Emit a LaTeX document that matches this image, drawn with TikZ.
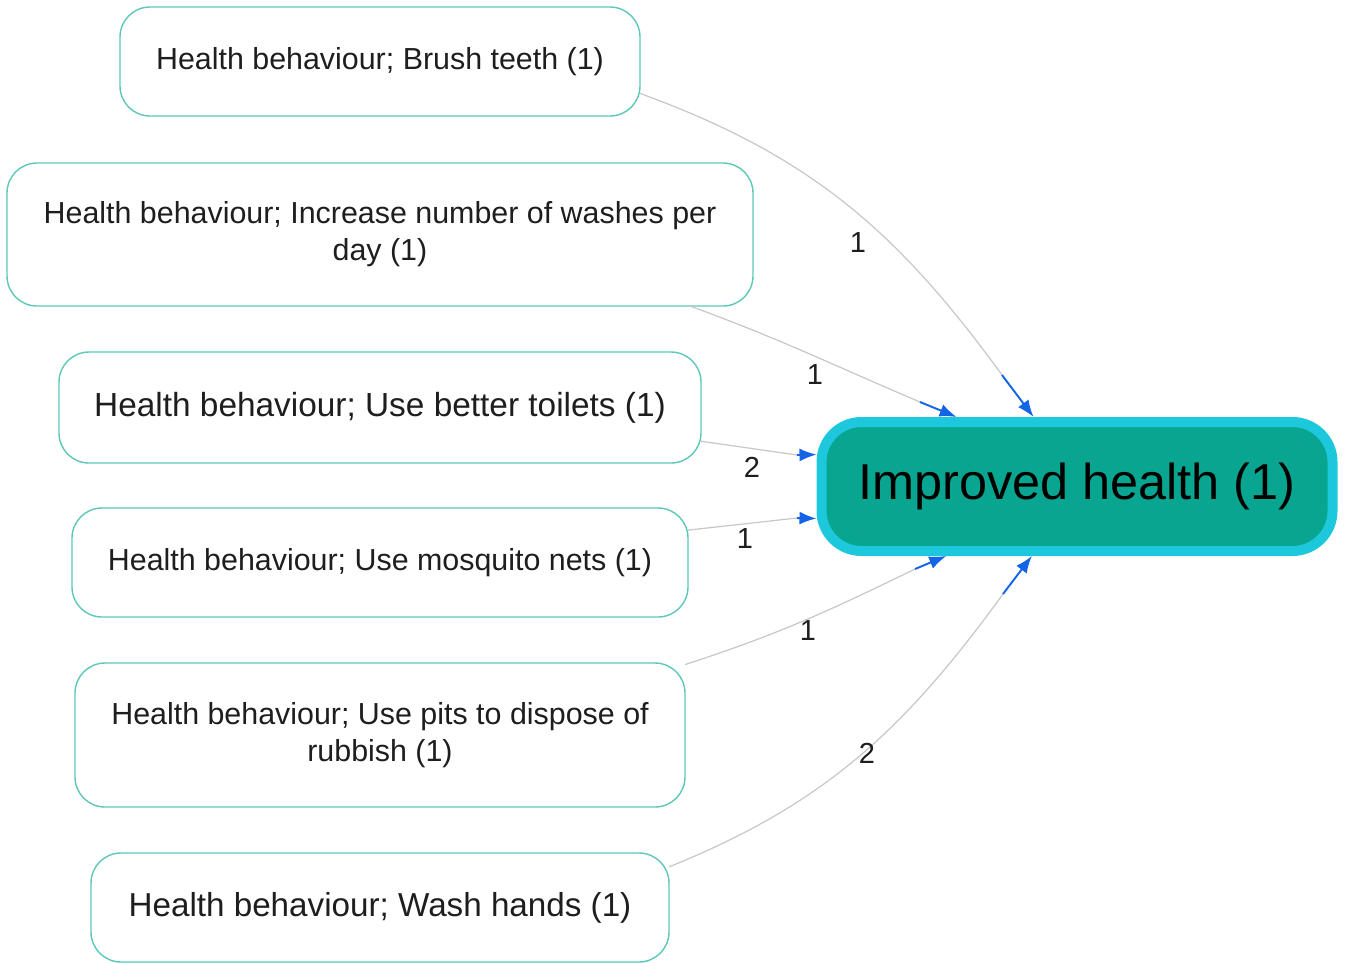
\documentclass[tikz,border=0pt]{standalone}
\usepackage{fontspec}
\setmainfont{Liberation Sans}
\usetikzlibrary{positioning,arrows.meta}

\definecolor{boxline}{RGB}{92,200,185}
\definecolor{hubfill}{RGB}{8,165,145}
\definecolor{hubline}{RGB}{30,200,220}
\definecolor{edgegrey}{RGB}{200,200,200}
\definecolor{tipblue}{RGB}{20,100,230}
\definecolor{txt}{RGB}{30,30,30}

\tikzset{
  behaviour/.style={draw=boxline, line width=0.8pt, rounded corners=0.6cm,
    fill=white, align=center, text=txt, inner sep=0pt, outer sep=0pt,
    font=\fontsize{17.3}{21}\selectfont},
  hub/.style={draw=hubline, fill=hubfill, line width=0.2cm, rounded corners=0.8cm,
    minimum width=10.22cm, minimum height=2.58cm, inner sep=0pt,
    font=\fontsize{28.7}{34}\selectfont},
  link/.style={draw=edgegrey, line width=0.7pt},
  tip/.style={draw=tipblue, line width=1.1pt, -{Latex[length=0.34cm,width=0.26cm]}},
  elabel/.style={inner sep=0pt, text=txt, font=\fontsize{16.5}{20}\selectfont}
}

\begin{document}
\begin{tikzpicture}
    \useasboundingbox (0,0) rectangle (26.92,-19.24);

    % behaviours
    \node[behaviour, minimum width=10.4cm, minimum height=2.18cm] (b1) at (7.6,-1.23)
        {Health behaviour; Brush teeth (1)};
    \node[behaviour, minimum width=14.92cm, minimum height=2.86cm, below=0.94cm of b1] (b2)
        {Health behaviour; Increase number of washes per\\ day (1)};
    \node[behaviour, minimum width=12.84cm, minimum height=2.22cm, below=0.92cm of b2,
        font=\fontsize{19}{23}\selectfont] (b3)
        {Health behaviour; Use better toilets (1)};
    \node[behaviour, minimum width=12.32cm, minimum height=2.18cm, below=0.9cm of b3] (b4)
        {Health behaviour; Use mosquito nets (1)};
    \node[behaviour, minimum width=12.2cm, minimum height=2.88cm, below=0.92cm of b4] (b5)
        {Health behaviour; Use pits to dispose of\\ rubbish (1)};
    \node[behaviour, minimum width=11.56cm, minimum height=2.18cm, below=0.92cm of b5,
        font=\fontsize{18.9}{23}\selectfont] (b6)
        {Health behaviour; Wash hands (1)};

    % outcome
    \node[hub] (hub) at (21.54,-9.73) {Improved health (1)};

    % where the blue part starts
    \coordinate (m1) at (20.04,-7.50);
    \coordinate (m2) at (18.40,-8.04);
    \coordinate (m3) at (15.94,-9.10);
    \coordinate (m4) at (15.94,-10.36);
    \coordinate (m5) at (18.30,-11.38);
    \coordinate (m6) at (20.06,-11.88);

    % links
    \draw[link] (b1.-7.8) to[out=-20, in=126] (m1);
    \draw[tip] (m1) -- (hub.122.3);
    \draw[link] (b2.-13.2) to[out=-20, in=157] (m2);
    \draw[tip] (m2) -- (hub.150.6);
    \draw[link] (b3.-6.5) -- (m3);
    \draw[tip] (m3) -- (hub.173.6);
    \draw[link] (b4.6.4) -- (m4);
    \draw[tip] (m4) -- (hub.-173.6);
    \draw[link] (b5.13.5) to[out=18, in=-154] (m5);
    \draw[tip] (m5) -- (hub.-152.7);
    \draw[link] (b6.8.4) to[out=22, in=-126] (m6);
    \draw[tip] (m6) -- (hub.-123.3);

    % weights
    \node[elabel] (w1) at (17.16,-4.86) {1};
    \node[elabel] (w2) at (16.30,-7.50) {1};
    \node[elabel] (w3) at (15.04,-9.34) {2};
    \node[elabel] (w4) at (14.90,-10.78) {1};
    \node[elabel] (w5) at (16.16,-12.62) {1};
    \node[elabel] (w6) at (17.34,-15.06) {2};
\end{tikzpicture}
\end{document}
